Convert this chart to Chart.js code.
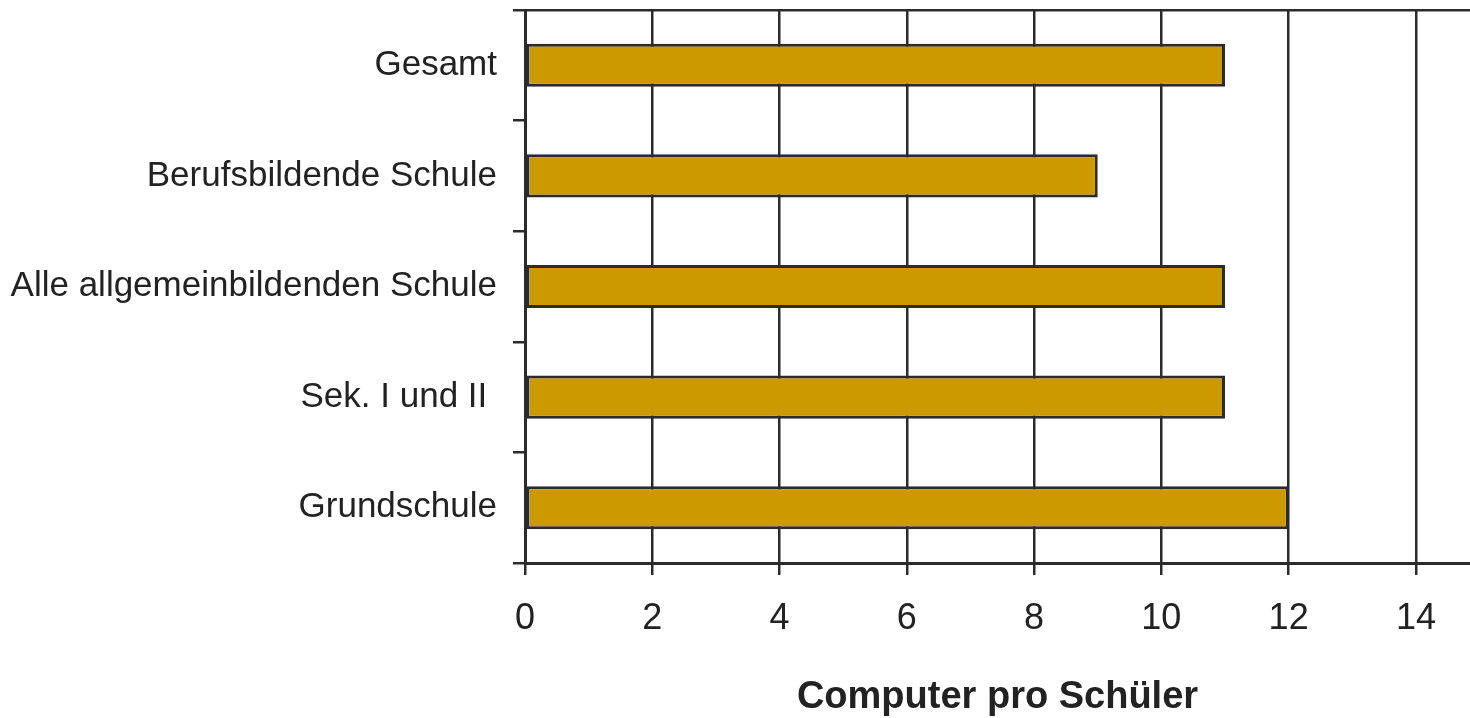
<!DOCTYPE html>
<html>
<head>
<meta charset="utf-8">
<script src="https://cdn.jsdelivr.net/npm/chart.js@4.4.1/dist/chart.umd.min.js"></script>
<style>
  body { margin: 0; background: #fff; overflow: hidden; }
</style>
</head>
<body>
<canvas id="chart" width="1470" height="718"></canvas>
<script>
// Werte
const schularten = ['Gesamt', 'Berufsbildende Schule', 'Alle allgemeinbildenden Schule', 'Sek. I und II ', 'Grundschule'];
const computerProSchueler = [11, 9, 11, 11, 12];
const achseMax = 14.85;
const achseSchritt = 2;

const dunkel = '#2b2b2b';
const textFarbe = '#222222';

new Chart(document.getElementById('chart').getContext('2d'), {
    type: 'bar',
    data: {
        labels: schularten,
        datasets: [{
            data: computerProSchueler,
            backgroundColor: '#cc9900',
            borderColor: dunkel,
            borderWidth: 3,
            borderSkipped: false,
            categoryPercentage: 1,
            barPercentage: 0.39
        }]
    },
    options: {
        indexAxis: 'y',
        responsive: false,
        animation: false,
        devicePixelRatio: 1,
        layout: { padding: { top: 10, left: 0, right: 0, bottom: 0 } },
        plugins: {
            legend: { display: false },
            tooltip: { enabled: false }
        },
        scales: {
            x: {
                min: 0,
                max: achseMax,
                border: { color: dunkel, width: 3 },
                grid: { color: dunkel, lineWidth: 2.5, tickLength: 12, tickColor: dunkel },
                ticks: {
                    stepSize: achseSchritt,
                    includeBounds: false,
                    padding: 22,
                    color: textFarbe,
                    font: { family: 'Liberation Sans', size: 36 }
                },
                title: {
                    display: true,
                    text: 'Computer pro Schüler',
                    color: textFarbe,
                    padding: { top: 0, bottom: -2 },
                    font: { family: 'Liberation Sans', size: 38, weight: 'bold' }
                },
                afterFit: function (scale) {
                    scale.height = 155;
                    scale.paddingLeft = 0;
                    scale.paddingRight = 0;
                }
            },
            y: {
                border: { color: dunkel, width: 3 },
                grid: {
                    color: function (ctx) {
                        return ctx.index === 0 ? dunkel : 'rgba(0,0,0,0)';
                    },
                    tickColor: dunkel,
                    lineWidth: 2.5,
                    tickLength: 12
                },
                ticks: {
                    padding: 16,
                    color: textFarbe,
                    font: { family: 'Liberation Sans', size: 35 }
                },
                afterFit: function (scale) {
                    scale.width = 525;
                    scale.paddingTop = 0;
                    scale.paddingBottom = 0;
                }
            }
        }
    }
});
</script>
</body>
</html>
